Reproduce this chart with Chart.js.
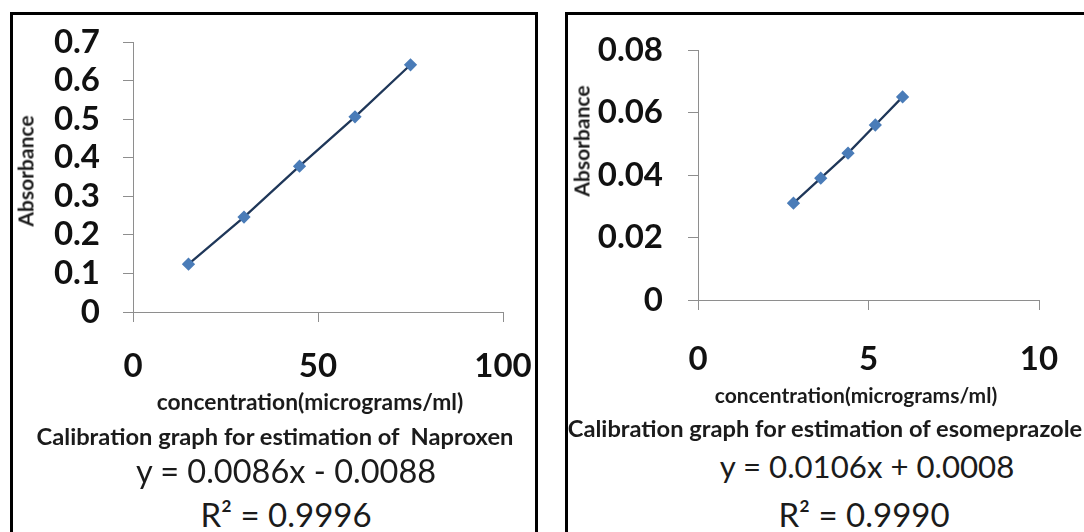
<!DOCTYPE html>
<html>
<head>
<meta charset="utf-8">
<script src="https://cdn.jsdelivr.net/npm/chart.js@4.4.0/dist/chart.umd.min.js"></script>
<style>
  body { margin: 0; width: 1084px; height: 532px; overflow: hidden; background: #fff; position: relative; font-family: Lato, "Open Sans", sans-serif; color: #1b1b1b; }
  .panel { position: absolute; border: 3px solid #000; box-sizing: border-box; }
  #panelLeft { left: 10px; top: 12px; width: 528px; height: 560px; }
  #panelRight { left: 565px; top: 12px; width: 560px; height: 560px; }
  canvas { position: absolute; }
  #naproxen { left: 13px; top: 15px; }
  #esomeprazole { left: 568px; top: 15px; }
  .txt { position: absolute; white-space: nowrap; transform: translate(-50%, -50%); }
  .ytitle { font-weight: bold; font-size: 21px; transform: translate(-50%, -50%) rotate(-90deg); }
  .xtitle { font-weight: bold; }
  .caption { font-weight: bold; font-size: 23.7px; }
  .eq { font-size: 32.5px; }
  .r2 { font-size: 33px; }
</style>
</head>
<body>
<div class="panel" id="panelLeft"></div>
<div class="panel" id="panelRight"></div>

<canvas id="naproxen" width="522" height="385"></canvas>
<canvas id="esomeprazole" width="516" height="385"></canvas>

<div class="txt ytitle" style="left:25px; top:171px;">Absorbance</div>
<div class="txt xtitle" style="left:310px; top:401px; font-size:22.8px;">concentration(micrograms/ml)</div>
<div class="txt caption" style="left:275px; top:436px;">Calibration graph for estimation of&nbsp; Naproxen</div>
<div class="txt eq" style="left:286px; top:470px;">y = 0.0086x - 0.0088</div>
<div class="txt r2" style="left:286px; top:514px;">R² = 0.9996</div>

<div class="txt ytitle" style="left:581px; top:141px;">Absorbance</div>
<div class="txt xtitle" style="left:856px; top:394px; font-size:21px;">concentration(micrograms/ml)</div>
<div class="txt caption" style="left:825px; top:428px;">Calibration graph for estimation of esomeprazole</div>
<div class="txt eq" style="left:867px; top:466px; font-size:31.2px;">y = 0.0106x + 0.0008</div>
<div class="txt r2" style="left:864px; top:514px;">R² = 0.9990</div>

<script>
// Naproxen calibration
const napConc = [15, 30, 45, 60, 75];
const napAbs = [0.124, 0.246, 0.378, 0.506, 0.641];
const napXTicks = [0, 50, 100];
const napYTicks = [0, 0.1, 0.2, 0.3, 0.4, 0.5, 0.6, 0.7];
const napYLabels = ['0', '0.1', '0.2', '0.3', '0.4', '0.5', '0.6', '0.7'];

// Esomeprazole calibration
const esoConc = [2.8, 3.6, 4.4, 5.2, 6.0];
const esoAbs = [0.031, 0.039, 0.047, 0.056, 0.065];
const esoXTicks = [0, 5, 10];
const esoYTicks = [0, 0.02, 0.04, 0.06, 0.08];
const esoYLabels = ['0', '0.02', '0.04', '0.06', '0.08'];

const axisGray = '#8e8e8e';
const tickFont = { family: 'Lato', size: 33, weight: 'bold' };

// label overhang would otherwise push the plot area in, keep it fixed
function noOverhang(s) {
  s.paddingTop = 0;
  s.paddingBottom = 0;
  s.paddingLeft = 0;
  s.paddingRight = 0;
}

function makeChart(id, xs, ys, xTicks, yTicks, yLabels, g) {
  const ctx = document.getElementById(id).getContext('2d');
  return new Chart(ctx, {
    type: 'scatter',
    data: {
      datasets: [{
        data: xs.map((x, i) => ({ x: x, y: ys[i] })),
        showLine: true,
        borderColor: '#1f3759',
        borderWidth: 2.3,
        pointStyle: 'rectRot',
        pointRadius: 5,
        pointBackgroundColor: '#4a7cb8',
        pointBorderColor: '#4a7cb8'
      }]
    },
    options: {
      responsive: false,
      animation: false,
      layout: { padding: { top: g.padTop, right: g.padRight, left: 0, bottom: 0 } },
      plugins: { legend: { display: false }, tooltip: { enabled: false } },
      scales: {
        x: {
          type: 'linear',
          min: xTicks[0],
          max: xTicks[xTicks.length - 1],
          afterBuildTicks: s => { s.ticks = xTicks.map(v => ({ value: v })); },
          afterFit: s => { s.height = g.xHeight; noOverhang(s); },
          grid: { drawOnChartArea: false, drawTicks: true, tickLength: 10, color: axisGray },
          border: { color: axisGray, width: 1 },
          ticks: { padding: g.xPad, color: '#111', font: tickFont, maxRotation: 0, autoSkip: false }
        },
        y: {
          type: 'linear',
          min: yTicks[0],
          max: yTicks[yTicks.length - 1],
          afterBuildTicks: s => { s.ticks = yTicks.map(v => ({ value: v })); },
          afterFit: s => { s.width = g.yWidth; noOverhang(s); },
          grid: { drawOnChartArea: false, drawTicks: true, tickLength: 10, color: axisGray },
          border: { color: axisGray, width: 1 },
          ticks: {
            padding: g.yPad, color: '#111', font: tickFont, autoSkip: false,
            callback: (v, i) => yLabels[i]
          }
        }
      }
    }
  });
}

makeChart('naproxen', napConc, napAbs, napXTicks, napYTicks, napYLabels,
  { padTop: 27, padRight: 32, xHeight: 88, yWidth: 120, xPad: 25, yPad: 23 });
makeChart('esomeprazole', esoConc, esoAbs, esoXTicks, esoYTicks, esoYLabels,
  { padTop: 35, padRight: 45, xHeight: 100, yWidth: 130, xPad: 30, yPad: 25 });
</script>
</body>
</html>
